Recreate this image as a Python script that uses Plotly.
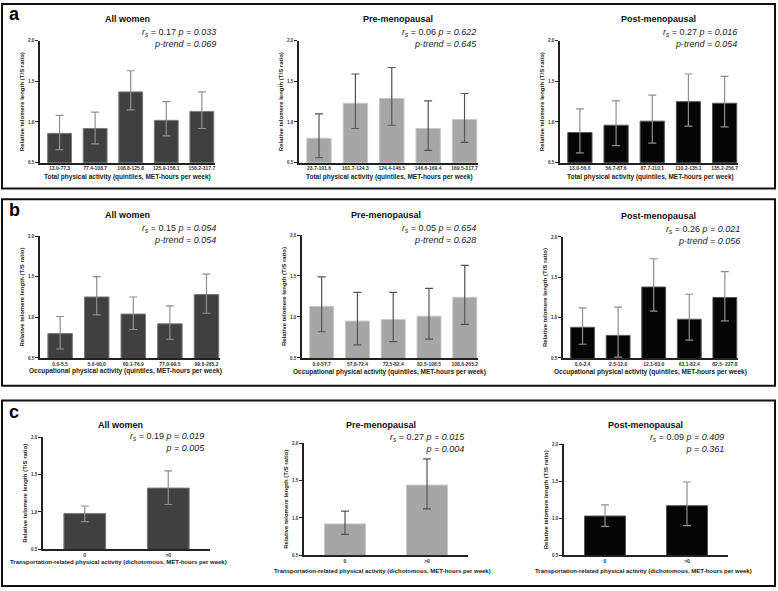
import plotly.graph_objects as go

W, H = 778, 591

# ---- data ----
total_all_cats = ["13.0-77.3", "77.4-108.7", "108.8-125.8", "125.9-158.1", "158.2-317.7"]
total_pre_cats = ["23.7-101.6", "101.7-124.3", "124.4-146.5", "146.6-169.4", "169.5-317.7"]
total_post_cats = ["13.0-56.6", "56.7-87.6", "87.7-110.1", "110.2-135.1", "135.2-256.7"]
occ_all_cats = ["0.0-5.5", "5.6-60.0", "60.1-76.9", "77.0-99.5", "99.6-265.2"]
occ_pre_cats = ["0.0-57.7", "57.8-72.4", "72.5-82.4", "82.5-108.5", "108.6-265.2"]
occ_post_cats = ["0.0-2.4", "2.5-12.0", "12.1-63.0", "63.1-82.4", "82.5- 227.8"]
trans_cats = ["0", ">0"]

a_all = [0.86, 0.92, 1.37, 1.02, 1.13]
a_all_lo = [0.66, 0.73, 1.15, 0.83, 0.92]
a_all_hi = [1.08, 1.12, 1.63, 1.25, 1.37]
a_pre = [0.80, 1.23, 1.29, 0.92, 1.03]
a_pre_lo = [0.56, 0.92, 0.96, 0.65, 0.75]
a_pre_hi = [1.10, 1.59, 1.67, 1.26, 1.35]
a_post = [0.87, 0.96, 1.01, 1.25, 1.23]
a_post_lo = [0.62, 0.71, 0.74, 0.95, 0.94]
a_post_hi = [1.16, 1.26, 1.33, 1.59, 1.56]

b_all = [0.80, 1.25, 1.04, 0.92, 1.28]
b_all_lo = [0.61, 1.03, 0.85, 0.73, 1.05]
b_all_hi = [1.01, 1.50, 1.25, 1.14, 1.53]
b_pre = [1.13, 0.95, 0.97, 1.01, 1.24]
b_pre_lo = [0.82, 0.66, 0.70, 0.73, 0.91]
b_pre_hi = [1.49, 1.30, 1.30, 1.35, 1.63]
b_post = [0.88, 0.78, 1.38, 0.98, 1.25]
b_post_lo = [0.67, 0.51, 1.08, 0.72, 0.96]
b_post_hi = [1.12, 1.13, 1.73, 1.29, 1.57]

c_all = [0.98, 1.32]
c_all_lo = [0.87, 1.10]
c_all_hi = [1.08, 1.55]
c_pre = [0.92, 1.44]
c_pre_lo = [0.78, 1.12]
c_pre_hi = [1.09, 1.79]
c_post = [1.03, 1.17]
c_post_lo = [0.89, 0.90]
c_post_hi = [1.18, 1.49]

titles = ["All women", "Pre-menopausal", "Post-menopausal"]
stats = [
    ("0.17", "0.033", "<i>p-trend = 0.069</i>"),
    ("0.06", "0.622", "<i>p-trend = 0.645</i>"),
    ("0.27", "0.016", "<i>p-trend = 0.054</i>"),
    ("0.15", "0.054", "<i>p-trend = 0.054</i>"),
    ("0.05", "0.654", "<i>p-trend = 0.628</i>"),
    ("0.26", "0.021", "<i>p-trend = 0.056</i>"),
    ("0.19", "0.019", "<i>p = 0.005</i>"),
    ("0.27", "0.015", "<i>p = 0.004</i>"),
    ("0.09", "0.409", "<i>p = 0.361</i>"),
]
xtitles = [
    "Total physical activity (quintiles, MET-hours per week)",
    "Occupational physical activity (quintiles, MET-hours per week)",
    "Transportation-related physical activity (dichotomous, MET-hours per week)",
]

panels = [
    (total_all_cats, a_all, a_all_lo, a_all_hi),
    (total_pre_cats, a_pre, a_pre_lo, a_pre_hi),
    (total_post_cats, a_post, a_post_lo, a_post_hi),
    (occ_all_cats, b_all, b_all_lo, b_all_hi),
    (occ_pre_cats, b_pre, b_pre_lo, b_pre_hi),
    (occ_post_cats, b_post, b_post_lo, b_post_hi),
    (trans_cats, c_all, c_all_lo, c_all_hi),
    (trans_cats, c_pre, c_pre_lo, c_pre_hi),
    (trans_cats, c_post, c_post_lo, c_post_hi),
]

# plot areas in pixels: x0, x1, y_top(2.0), y_bottom(0.5)
boxes = [
    (40, 215, 39, 162), (299, 478, 39, 162), (560, 738, 39, 162),
    (40, 220, 236, 359), (302, 478, 235, 359), (563, 738, 237, 359),
    (43, 210, 439, 552), (304, 468, 445, 558), (564, 728, 446, 558),
]
title_pos = [
    (128, 17), (398, 17), (658, 17),
    (128, 215), (386, 215), (658, 216),
    (120, 427), (381, 427), (645, 427),
]
stat_pos = [
    (218, 23), (479, 23), (739, 23),
    (218, 221), (478, 221), (742, 222),
    (207, 431), (467, 432), (726, 432),
]
xt_pos = [
    (128, 176), (389, 176), (650, 176),
    (126, 372), (389, 373), (650, 373),
    (118, 565), (382, 574), (643, 574),
]
bar_colors = ["#404040", "#a6a6a6", "#050505"]
edge_colors = ["#7a7a7a", "#c8c8c8", "#555555"]
err_colors = ["#8f8f8f", "#555555", "#8f8f8f"]

FONT = "Liberation Sans, Arial, sans-serif"


def px_x(v):
    return v / W


def px_y(v):
    return 1 - v / H


fig = go.Figure()
annotations = []
for i, (cats, vals, lo, hi) in enumerate(panels):
    k = i % 3
    n = "" if i == 0 else str(i + 1)
    x0, x1, yt, yb = boxes[i]
    two = len(cats) == 2
    fig.add_trace(go.Bar(
        x=list(range(len(cats))), y=vals,
        xaxis="x" + n, yaxis="y" + n,
        width=0.5 if two else 0.67,
        marker=dict(color=bar_colors[k], line=dict(color=edge_colors[k], width=1)),
        error_y=dict(type="data", symmetric=False,
                     array=[h - v for h, v in zip(hi, vals)],
                     arrayminus=[v - l for v, l in zip(vals, lo)],
                     color=err_colors[k], thickness=1.2, width=4),
        showlegend=False,
    ))
    fig.layout["xaxis" + n] = dict(
        domain=[px_x(x0), px_x(x1)], anchor="y" + n,
        range=[-0.5, 1.5] if two else [-0.55, 4.37],
        tickmode="array", tickvals=list(range(len(cats))),
        ticktext=["<b>" + c + "</b>" for c in cats],
        tickangle=0,
        showline=True, linecolor="#222", linewidth=1.5,
        ticks="",
        tickfont=dict(size=5, color="#333", family=FONT),
        showgrid=False, zeroline=False, fixedrange=True,
    )
    fig.layout["yaxis" + n] = dict(
        domain=[px_y(yb), px_y(yt)], anchor="x" + n,
        range=[0.5, 2.0], tickvals=[0.5, 1.0, 1.5, 2.0],
        ticktext=["<b>0.5</b>", "<b>1.0</b>", "<b>1.5</b>", "<b>2.0</b>"],
        showline=True, linecolor="#222", linewidth=1.5,
        ticks="outside", ticklen=3, tickcolor="#222",
        tickfont=dict(size=4.5, color="#333", family=FONT),
        title=dict(text="<b>Relative telomere length (T/S ratio)</b>",
                   font=dict(size=6, color="#222", family=FONT), standoff=3),
        showgrid=False, zeroline=False, fixedrange=True,
    )
    tx, ty = title_pos[i]
    annotations.append(dict(
        x=px_x(tx), y=px_y(ty), xref="paper", yref="paper",
        text="<b>" + titles[k] + "</b>", showarrow=False,
        xanchor="center", yanchor="middle",
        font=dict(size=9, color="#111", family=FONT)))
    r, p, line2 = stats[i]
    sx, sy = stat_pos[i]
    annotations.append(dict(
        x=px_x(sx), y=px_y(sy), xref="paper", yref="paper",
        text="<i>r<sub>s</sub></i> = " + r + " <i>p = " + p + "</i><br>" + line2,
        showarrow=False, xanchor="right", yanchor="top", align="right",
        font=dict(size=9, color="#222", family=FONT)))
    xx, xy = xt_pos[i]
    annotations.append(dict(
        x=px_x(xx), y=px_y(xy), xref="paper", yref="paper",
        text="<b>" + xtitles[i // 3] + "</b>", showarrow=False,
        xanchor="center", yanchor="middle",
        font=dict(size=6 if i >= 6 else 6.5, color="#222", family=FONT)))

# panel letters
for letter, ly in [("a", 12), ("b", 210), ("c", 413)]:
    annotations.append(dict(
        x=px_x(14), y=px_y(ly), xref="paper", yref="paper",
        text="<b>" + letter + "</b>", showarrow=False,
        xanchor="center", yanchor="middle",
        font=dict(size=18, color="#000", family=FONT)))

shapes = []
for y0, y1 in [(2, 188), (199, 387), (402, 589)]:
    shapes.append(dict(type="rect", xref="paper", yref="paper",
                       x0=px_x(2), x1=px_x(775), y0=px_y(y1), y1=px_y(y0),
                       line=dict(color="#111", width=2)))

fig.update_layout(
    width=W, height=H,
    margin=dict(l=0, r=0, t=0, b=0),
    paper_bgcolor="white", plot_bgcolor="white",
    annotations=annotations, shapes=shapes,
    font=dict(family=FONT),
)

fig.write_html("out.html", config={"displayModeBar": False},
               post_script="document.body.style.margin='0';")
